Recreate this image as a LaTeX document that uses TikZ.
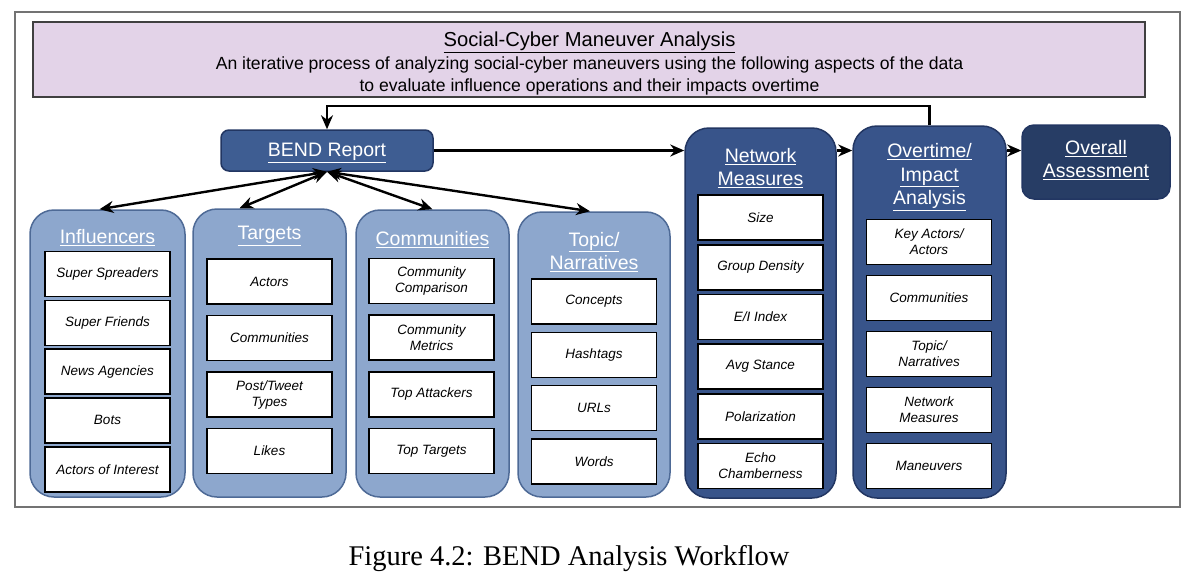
\documentclass[tikz,border=0pt]{standalone}
\usepackage{fontspec}
\setmainfont{Liberation Sans}
\newfontfamily\capfont{Liberation Serif}
\usetikzlibrary{calc,arrows.meta}
\definecolor{hdrfill}{RGB}{227,211,232}
\definecolor{litefill}{RGB}{141,167,205}
\definecolor{liteline}{RGB}{78,106,150}
\definecolor{darkfill}{RGB}{56,84,138}
\definecolor{darkline}{RGB}{34,54,98}
\definecolor{bendfill}{RGB}{62,93,146}
\definecolor{allfill}{RGB}{39,61,101}
\begin{document}
\begin{tikzpicture}[x=1pt,y=-1pt,>={Stealth[length=14pt,width=12pt]},
	col/.style={draw=liteline,fill=litefill,line width=1.5pt,rounded corners=24pt,inner sep=0pt},
	dcol/.style={col,draw=darkline,fill=darkfill},
	ttl/.style={text=white,font=\fontsize{19.5}{23.5}\selectfont,align=center},
	item/.style={draw=black,fill=white,line width=1.6pt,minimum width=125pt,minimum height=45pt,
		align=center,font=\fontsize{13.5}{16}\selectfont\itshape},
	arr/.style={line width=2.4pt}]
	\useasboundingbox (0,0) rectangle (1188,582);
	% le cadre
	\draw[line width=1.2pt,black!55] (15,12) rectangle (1180,507);
	\node[draw=black!75,fill=hdrfill,line width=1.2pt,minimum width=1112pt,minimum height=75pt] (hdr) at (589,59.5) {};
	\node[font=\fontsize{20.2}{22}\selectfont] (hdr-t) at (589.5,42) {\underline{Social-Cyber Maneuver Analysis}};
	\node[font=\fontsize{17.6}{22}\selectfont,align=center] (hdr-s) at (589.5,76) {An iterative process of analyzing social-cyber maneuvers using the following aspects of the data\\to evaluate influence operations and their impacts overtime};
% les colonnes
	\node[col,minimum width=155pt,minimum height=287pt] (infl) at (107.5,353.5) {};
	\node[col,minimum width=153pt,minimum height=288pt] (tgt) at (269.5,353) {};
	\node[col,minimum width=153pt,minimum height=287pt] (comm) at (432.5,353.5) {};
	\node[col,minimum width=152pt,minimum height=285pt] (topic) at (594,354.5) {};
	\node[dcol,minimum width=151pt,minimum height=370pt] (netw) at (760.5,313) {};
	\node[dcol,minimum width=153pt,minimum height=372pt] (over) at (929.5,312) {};
	\node[dcol,fill=allfill,rounded corners=12pt,minimum width=148pt,minimum height=74pt] (overall) at (1096,162) {};
	\node[dcol,fill=bendfill,rounded corners=8pt,minimum width=212pt,minimum height=41pt] (bend) at (327,150.5) {};
	\node[ttl] (bend-t) at (327,153) {\underline{BEND Report}};
	\node[ttl] (overall-t) at (1096,160) {\underline{Overall}\\\underline{Assessment}};
	\node[ttl] (infl-t) at (107.5,238) {\underline{Influencers}};
	\node[ttl] (tgt-t) at (269.5,236) {\underline{Targets}};
	\node[ttl] (comm-t) at (432.5,240) {\underline{Communities}};
	\node[ttl] (topic-t) at (594,252) {\underline{Topic/}\\\underline{Narratives}};
	\node[ttl] (netw-t) at (760.5,168) {\underline{Network}\\\underline{Measures}};
	\node[ttl] (over-t) at (929.5,177) {\underline{Overtime/}\\\underline{Impact}\\\underline{Analysis}};
% les cases
	\foreach \t [count=\i] in {Super Spreaders,Super Friends,News Agencies,Bots,Actors of Interest}
		\node[item] (infl-\i) at (107.5,{274+48.8*(\i-1)}) {\t};
	\foreach \t [count=\i] in {Actors,Communities,{Post/Tweet\\Types},Likes}
		\node[item] (tgt-\i) at (269.5,{281.5+56.5*(\i-1)}) {\t};
	\foreach \t [count=\i] in {{Community\\Comparison},{Community\\Metrics},Top Attackers,Top Targets}
		\node[item] (comm-\i) at (431.5,{281+56.7*(\i-1)}) {\t};
	\foreach \t [count=\i] in {Concepts,Hashtags,URLs,Words}
		\node[item] (topic-\i) at (594,{301.5+53.3*(\i-1)}) {\t};
	\foreach \t [count=\i] in {Size,Group Density,E/I Index,Avg Stance,Polarization,{Echo\\Chamberness}}
		\node[item] (netw-\i) at (760.5,{217.5+49.7*(\i-1)}) {\t};
	\foreach \t [count=\i] in {{Key Actors/\\Actors},Communities,{Topic/\\Narratives},{Network\\Measures},Maneuvers}
		\node[item] (over-\i) at (929,{242+56*(\i-1)}) {\t};
% les fleches
	\draw[<->,arr] (bend.south) -- ([xshift=-8pt]infl.north);
	\draw[<->,arr] (bend.south) -- ([xshift=-30pt]tgt.north);
	\draw[<->,arr] (bend.south) -- (comm.north);
	\draw[<->,arr] (bend.south) -- ([xshift=-4pt]topic.north);
	\draw[->,arr] (bend.east) -- (netw.west |- bend.east);
	\draw[->,arr] (netw.east |- bend.east) -- (over.west |- bend.east);
	\draw[->,arr] (over.east |- bend.east) -- (overall.west |- bend.east);
	\coordinate (fb) at (0,106);
	\draw[->,arr] (over.north) -- (over.north |- fb) -| (bend.north);
	\node[font=\capfont\fontsize{28.5}{30}\selectfont] (cap) at (569,559) {Figure 4.2: BEND Analysis Workflow};
\end{tikzpicture}
\end{document}
